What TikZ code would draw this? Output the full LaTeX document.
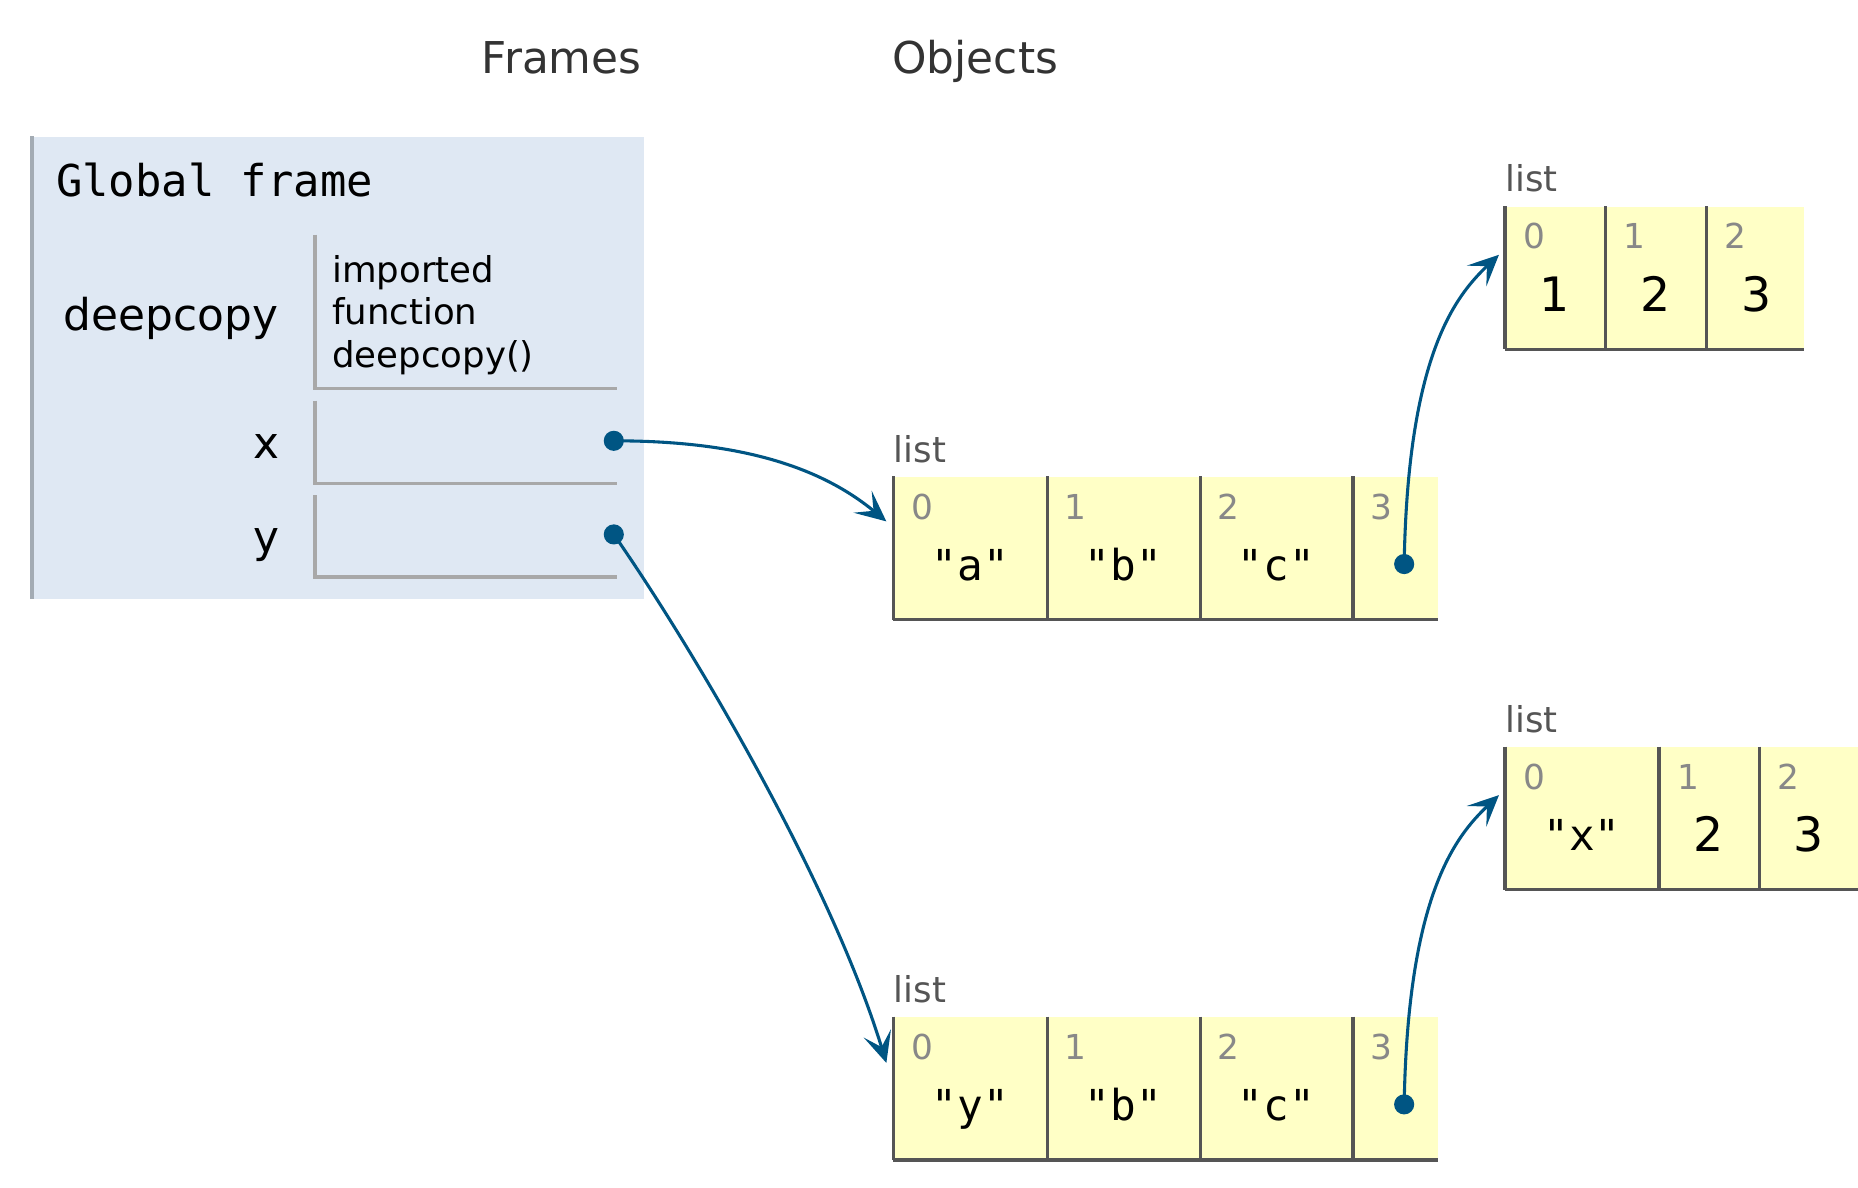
\documentclass[tikz,border=0pt]{standalone}
\usepackage{fontspec}
\setmainfont{DejaVu Sans}
\setmonofont{DejaVu Sans Mono}
\usetikzlibrary{arrows.meta}
\definecolor{framefill}{HTML}{DFE8F3}
\definecolor{frameedge}{HTML}{A3ABB3}
\definecolor{varline}{HTML}{A8A8A8}
\definecolor{listfill}{HTML}{FFFFC6}
\definecolor{listline}{HTML}{555555}
\definecolor{ptrblue}{HTML}{005583}
\definecolor{idxgray}{HTML}{888888}
\definecolor{labelgray}{HTML}{555555}
\tikzset{
  heading/.style={font=\fontsize{18.5}{22}\selectfont, text=black!80, inner sep=0, anchor=base},
  frametitle/.style={font=\ttfamily\fontsize{18.5}{22}\selectfont, inner sep=0, anchor=base west},
  varname/.style={font=\fontsize{18.5}{22}\selectfont, inner sep=0, anchor=base east},
  functext/.style={font=\fontsize{15}{18}\selectfont, inner sep=0, anchor=base west},
  varlinestyle/.style={draw=varline, line width=1.5pt},
  framebox/.style={rectangle, fill=framefill, inner sep=0, anchor=north west},
  cell/.style={rectangle, fill=listfill, inner sep=0, anchor=north west, minimum height=60pt},
  listborder/.style={draw=listline, line width=1.5pt},
  listlabel/.style={font=\fontsize{15}{18}\selectfont, text=labelgray, inner sep=0, anchor=base west},
  idx/.style={font=\fontsize{14.5}{16}\selectfont, text=idxgray, inner sep=0, anchor=base west},
  strval/.style={font=\ttfamily\fontsize{18}{20}\selectfont, inner sep=0, anchor=base},
  numval/.style={font=\fontsize{20}{22}\selectfont, inner sep=0, anchor=base},
  dot/.style={circle, fill=ptrblue, inner sep=0, minimum size=8.5pt},
  ptr/.style={draw=ptrblue, line width=1.3pt, -{Stealth[length=13pt, width=12pt, inset=6pt]}},
}
\begin{document}
\begin{tikzpicture}[x=0.5pt, y=-0.5pt]
\useasboundingbox (0,0) rectangle (1568,1002);

% headings
\node[heading] (frames) at (474,62) {Frames};
\node[heading] (objects) at (823,62) {Objects};

% global frame
\node[framebox, minimum width=258pt, minimum height=195pt] (gf) at (27,115) {};
\draw[draw=frameedge, line width=1.5pt] (gf.north west) -- (gf.south west);
\node[frametitle] (gftitle) at (47,166) {Global frame};

\node[varname] (deepcopyname) at (235,279) {deepcopy};
\draw[varlinestyle] (266,198) -- (266,328) -- (521,328);
\node[functext] (f1) at (280,238) {imported};
\node[functext] (f2) at (280,274) {function};
\node[functext] (f3) at (280,310) {deepcopy()};

\node[varname] (xname) at (236,387) {x};
\draw[varlinestyle] (266,338) -- (266,408) -- (521,408);
\node[varname] (yname) at (236,466) {y};
\draw[varlinestyle] (266,418) -- (266,487) -- (521,487);

% list 1 (x)
\node[listlabel] (l1lab) at (754,390) {list};
\node[cell, minimum width=65pt] (a0) at (754,402) {};
\node[cell, minimum width=64.5pt] (a1) at (884,402) {};
\node[cell, minimum width=64.5pt] (a2) at (1013,402) {};
\node[cell, minimum width=35.5pt] (a3) at (1142,402) {};
\foreach \c in {a0,a1,a2,a3} \draw[listborder] (\c.north west) -- (\c.south west);
\draw[listborder] (a0.south west) -- (a3.south east);
\node[idx] at (769,438) {0};
\node[idx] at (898,438) {1};
\node[idx] at (1027,438) {2};
\node[idx] at (1156,438) {3};
\node[strval] (a0v) at (819,490) {"a"};
\node[strval] (a1v) at (948,490) {"b"};
\node[strval] (a2v) at (1077,490) {"c"};

% list 2 (inner of x)
\node[listlabel] (l2lab) at (1270,162) {list};
\node[cell, minimum width=42.5pt] (b0) at (1270,174) {};
\node[cell, minimum width=42.5pt] (b1) at (1355,174) {};
\node[cell, minimum width=41pt] (b2) at (1440,174) {};
\foreach \c in {b0,b1,b2} \draw[listborder] (\c.north west) -- (\c.south west);
\draw[listborder] (b0.south west) -- (b2.south east);
\node[idx] at (1285,210) {0};
\node[idx] at (1370,210) {1};
\node[idx] at (1455,210) {2};
\node[numval] at (1312,263) {1};
\node[numval] at (1397,263) {2};
\node[numval] at (1482,263) {3};

% list 3 (y)
\node[listlabel] (l3lab) at (754,846) {list};
\node[cell, minimum width=65pt] (c0) at (754,858) {};
\node[cell, minimum width=64.5pt] (c1) at (884,858) {};
\node[cell, minimum width=64.5pt] (c2) at (1013,858) {};
\node[cell, minimum width=35.5pt] (c3) at (1142,858) {};
\foreach \c in {c0,c1,c2,c3} \draw[listborder] (\c.north west) -- (\c.south west);
\draw[listborder] (c0.south west) -- (c3.south east);
\node[idx] at (769,894) {0};
\node[idx] at (898,894) {1};
\node[idx] at (1027,894) {2};
\node[idx] at (1156,894) {3};
\node[strval] at (819,946) {"y"};
\node[strval] at (948,946) {"b"};
\node[strval] at (1077,946) {"c"};

% list 4 (inner of y)
\node[listlabel] (l4lab) at (1270,618) {list};
\node[cell, minimum width=65pt] (d0) at (1270,630) {};
\node[cell, minimum width=42.5pt] (d1) at (1400,630) {};
\node[cell, minimum width=41.5pt] (d2) at (1485,630) {};
\foreach \c in {d0,d1,d2} \draw[listborder] (\c.north west) -- (\c.south west);
\draw[listborder] (d0.south west) -- (d2.south east);
\node[idx] at (1285,666) {0};
\node[idx] at (1415,666) {1};
\node[idx] at (1500,666) {2};
\node[strval] at (1335,718) {"x"};
\node[numval] at (1442,719) {2};
\node[numval] at (1526,719) {3};

% pointers
\node[dot] (xdot) at (518,372) {};
\node[dot] (ydot) at (518,451) {};
\node[dot] (a3dot) at (1185,476) {};
\node[dot] (c3dot) at (1185,932) {};
\coordinate (a0in) at (748,440);
\coordinate (b0in) at (1265,215);
\coordinate (c0in) at (748,897);
\coordinate (d0in) at (1265,671);

\draw[ptr] (xdot.center) .. controls (620,372) and (690,392) .. (a0in);
\draw[ptr] (ydot.center) .. controls (580,540) and (700,740) .. (c0in);
\draw[ptr] (a3dot.center) .. controls (1188,300) and (1228,250) .. (b0in);
\draw[ptr] (c3dot.center) .. controls (1188,756) and (1228,706) .. (d0in);
\end{tikzpicture}
\end{document}
